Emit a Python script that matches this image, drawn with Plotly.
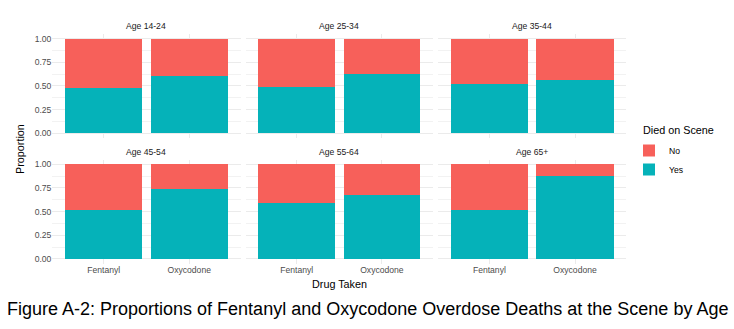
import plotly.graph_objects as go

# ---- data ----
ages = ["Age 14-24", "Age 25-34", "Age 35-44", "Age 45-54", "Age 55-64", "Age 65+"]
drugs = ["Fentanyl", "Oxycodone"]
yes_fentanyl = [0.481, 0.485, 0.523, 0.517, 0.591, 0.514]
yes_oxycodone = [0.608, 0.622, 0.562, 0.742, 0.679, 0.876]
y_ticks = [0, 0.25, 0.5, 0.75, 1.0]
y_ticklabels = ["0.00", "0.25", "0.50", "0.75", "1.00"]

COL_NO = "#F7605A"
COL_YES = "#05B2B9"
FONT = "Liberation Sans, Arial, sans-serif"
W, H = 734, 329

# panel geometry in pixels
col_x = [(52.4, 240.5), (245.6, 433.0), (438.0, 626.4)]
row_y = [(33.8, 138.0), (159.6, 263.7)]

fig = go.Figure()
annotations = []
for i, age in enumerate(ages):
    r, c = divmod(i, 3)
    n = i + 1
    xa = "x" if n == 1 else f"x{n}"
    ya = "y" if n == 1 else f"y{n}"
    yes_vals = [yes_fentanyl[i], yes_oxycodone[i]]
    no_vals = [1 - v for v in yes_vals]
    fig.add_trace(go.Bar(x=drugs, y=yes_vals, name="Yes", marker_color=COL_YES,
                         marker_line_width=0, width=0.9, xaxis=xa, yaxis=ya,
                         legendgroup="Yes", showlegend=(i == 0), legendrank=2))
    fig.add_trace(go.Bar(x=drugs, y=no_vals, name="No", marker_color=COL_NO,
                         marker_line_width=0, width=0.9, xaxis=xa, yaxis=ya,
                         legendgroup="No", showlegend=(i == 0), legendrank=1))
    x0, x1 = col_x[c]
    y0, y1 = row_y[r]
    xkey = "xaxis" if n == 1 else f"xaxis{n}"
    ykey = "yaxis" if n == 1 else f"yaxis{n}"
    fig.layout[xkey] = dict(
        domain=[x0 / W, x1 / W], anchor=ya, type="category",
        range=[-0.6, 1.6], showgrid=True, gridcolor="#ebebeb", gridwidth=1,
        showline=False, zeroline=False, ticks="",
        showticklabels=(r == 1),
        tickfont=dict(family=FONT, size=8.6, color="#4d4d4d"),
    )
    fig.layout[ykey] = dict(
        domain=[1 - y1 / H, 1 - y0 / H], anchor=xa, range=[-0.05, 1.05],
        tickvals=y_ticks, ticktext=y_ticklabels,
        showgrid=True, gridcolor="#ebebeb", gridwidth=1,
        minor=dict(showgrid=True, tick0=0.125, dtick=0.25, gridcolor="#f2f2f2", gridwidth=0.6),
        showline=False, zeroline=False, ticks="",
        showticklabels=(c == 0),
        tickfont=dict(family=FONT, size=8.6, color="#4d4d4d"),
    )
    annotations.append(dict(
        x=(x0 + x1) / 2 / W, y=1 - (y0 - 7.8) / H, xref="paper", yref="paper",
        text=age, showarrow=False, xanchor="center", yanchor="middle",
        font=dict(family=FONT, size=8.6, color="#1a1a1a"),
    ))

annotations.append(dict(
    x=20 / W, y=1 - 149 / H, xref="paper", yref="paper", text="Proportion",
    textangle=-90, showarrow=False, xanchor="center", yanchor="middle",
    font=dict(family=FONT, size=10.8, color="#000000"),
))
annotations.append(dict(
    x=339.4 / W, y=1 - 284 / H, xref="paper", yref="paper", text="Drug Taken",
    showarrow=False, xanchor="center", yanchor="middle",
    font=dict(family=FONT, size=10.8, color="#000000"),
))
annotations.append(dict(
    x=641 / W, y=1 - 130 / H, xref="paper", yref="paper", text="Died on Scene",
    showarrow=False, xanchor="left", yanchor="middle",
    font=dict(family=FONT, size=10.8, color="#000000"),
))
annotations.append(dict(
    x=367.5 / W, y=1 - 308.5 / H, xref="paper", yref="paper",
    text="Figure A-2: Proportions of Fentanyl and Oxycodone Overdose Deaths at the Scene by Age",
    showarrow=False, xanchor="center", yanchor="middle",
    font=dict(family=FONT, size=18, color="#000000"),
))

fig.update_layout(
    width=W, height=H, margin=dict(l=0, r=0, t=0, b=0),
    paper_bgcolor="white", plot_bgcolor="white",
    barmode="stack", bargap=0.1,
    annotations=annotations,
    legend=dict(
        x=629 / W, y=1 - 136 / H, xanchor="left", yanchor="top",
        font=dict(family=FONT, size=8.6, color="#000000"),
        traceorder="normal", itemwidth=30, bgcolor="rgba(0,0,0,0)",
        tracegroupgap=0,
    ),
    showlegend=True,
)

fig.write_html("out.html")
